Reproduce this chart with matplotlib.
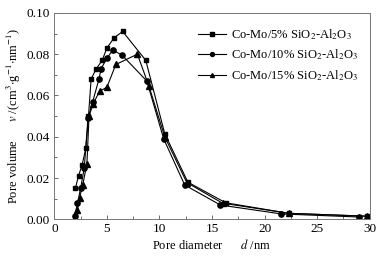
import matplotlib
matplotlib.use('Agg')
import matplotlib.pyplot as plt
from matplotlib.ticker import MultipleLocator

plt.rcParams['font.family'] = ['Liberation Serif', 'DejaVu Serif']
plt.rcParams['mathtext.fontset'] = 'stix'

# pore size distributions
d_5 = [2.0, 2.3, 2.65, 3.0, 3.25, 3.5, 4.0, 4.55, 5.0, 5.7, 6.5, 8.7, 10.5, 12.7, 16.3, 22.3, 29.7]
v_5 = [0.015, 0.021, 0.0265, 0.0345, 0.050, 0.068, 0.073, 0.077, 0.083, 0.088, 0.091,
       0.077, 0.0415, 0.018, 0.008, 0.0029, 0.0015]

d_10 = [1.95, 2.2, 2.5, 2.85, 3.2, 3.65, 4.25, 4.45, 5.0, 5.55, 6.45, 8.8, 10.4, 12.4, 15.8, 21.6, 29.0]
v_10 = [0.0017, 0.0077, 0.015, 0.025, 0.049, 0.057, 0.068, 0.073, 0.078, 0.082, 0.0795,
        0.067, 0.039, 0.0166, 0.0069, 0.0026, 0.0011]

d_15 = [2.2, 2.4, 2.7, 3.1, 3.3, 3.7, 4.3, 5.0, 5.85, 7.9, 9.0, 10.5, 12.6, 16.0, 22.3, 29.7]
v_15 = [0.0045, 0.0105, 0.0166, 0.027, 0.050, 0.056, 0.062, 0.064, 0.075, 0.080,
        0.0645, 0.040, 0.0178, 0.0078, 0.0029, 0.0015]

labels = [r'Co-Mo/5% SiO$_2$-Al$_2$O$_3$',
          r'Co-Mo/10% SiO$_2$-Al$_2$O$_3$',
          r'Co-Mo/15% SiO$_2$-Al$_2$O$_3$']

fig = plt.figure(figsize=(3.88, 2.58), dpi=100)
ax = fig.add_axes([0.14, 0.15, 0.813, 0.80])

ax.plot(d_5, v_5, color='black', lw=0.8, marker='s', ms=3.5, label=labels[0])
ax.plot(d_10, v_10, color='black', lw=0.8, marker='o', ms=3.8, label=labels[1])
ax.plot(d_15, v_15, color='black', lw=0.8, marker='^', ms=3.8, label=labels[2])

ax.set_xlim(0, 30)
ax.set_ylim(0, 0.10)
ax.xaxis.set_major_locator(MultipleLocator(5))
ax.xaxis.set_minor_locator(MultipleLocator(2.5))
ax.yaxis.set_major_locator(MultipleLocator(0.02))
ax.yaxis.set_minor_locator(MultipleLocator(0.01))
ax.yaxis.set_major_formatter(plt.FormatStrFormatter('%.2f'))
ax.tick_params(which='both', direction='in', labelsize=9.5, width=0.6, color='#555555', pad=3)
ax.tick_params(which='major', length=3)
ax.tick_params(which='minor', length=2)
for s in ax.spines.values():
    s.set_color('#777777')
    s.set_linewidth(0.7)

ax.set_xlabel(r'Pore diameter      $d$ /nm', fontsize=9, labelpad=2)
ax.set_ylabel(r'Pore volume      $v$ /(cm$^3$$\cdot$g$^{-1}$$\cdot$nm$^{-1}$)', fontsize=9, labelpad=3)

ax.legend(loc='upper right', bbox_to_anchor=(1.0, 0.985), frameon=False, fontsize=9,
          handlelength=2.3, labelspacing=0.45, handletextpad=0.4, markerscale=0.75)

fig.savefig('out.png', dpi=100)
